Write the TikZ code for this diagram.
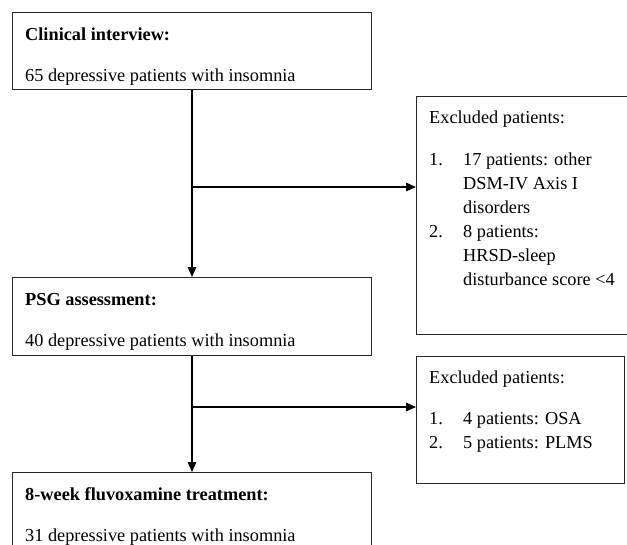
\documentclass[tikz,border=0pt]{standalone}
\usepackage{fontspec}
\setmainfont{Liberation Serif}
\usetikzlibrary{arrows.meta}
\begin{document}
\begin{tikzpicture}[x=1pt,y=-1pt,
  boxstyle/.style={draw=black!85,line width=1.3pt,rectangle,inner sep=0pt,anchor=north west},
  txt/.style={anchor=base west,inner sep=0pt,font=\fontsize{18.3}{24}\selectfont},
  btxt/.style={txt,font=\fontsize{18.3}{24}\selectfont\bfseries},
  arr/.style={draw=black,line width=1.4pt,-{Triangle[length=10pt,width=8.5pt]}},
  ln/.style={draw=black,line width=1.4pt}]
\useasboundingbox (0,0) rectangle (627,544);
\clip (0,0) rectangle (627,544);
% boxes
\node[boxstyle,minimum width=359pt,minimum height=77pt] (box1) at (12,12) {};
\node[boxstyle,minimum width=359pt,minimum height=78pt] (box2) at (12,277) {};
\node[boxstyle,minimum width=359pt,minimum height=90pt] (box3) at (12,472) {};
\node[boxstyle,minimum width=224pt,minimum height=238pt] (ex1) at (416,96) {};
\node[boxstyle,minimum width=208pt,minimum height=127pt] (ex2) at (416,356) {};
% texts
\node[btxt] (t1a) at (25,40) {Clinical interview:};
\node[txt] (t1b) at (25,81) {65 depressive patients with insomnia};
\node[btxt] (t2a) at (25,305) {PSG assessment:};
\node[txt] (t2b) at (25,346) {40 depressive patients with insomnia};
\node[btxt] (t3a) at (25,500) {8-week fluvoxamine treatment:};
\node[txt] (t3b) at (25,541) {31 depressive patients with insomnia};
\node[txt] (e1h) at (429,123) {Excluded patients:};
\node[txt] (e1n1) at (429,165) {1.};
\node[txt] (e1a) at (463,165) {17 patients: other};
\node[txt] (e1b) at (463,189) {DSM-IV Axis I};
\node[txt] (e1c) at (463,213) {disorders};
\node[txt] (e1n2) at (429,237) {2.};
\node[txt] (e1d) at (463,237) {8 patients:};
\node[txt] (e1e) at (463,261) {HRSD-sleep};
\node[txt] (e1f) at (463,285) {disturbance score <4};
\node[txt] (e2h) at (429,383) {Excluded patients:};
\node[txt] (e2n1) at (429,424) {1.};
\node[txt] (e2a) at (463,424) {4 patients: OSA};
\node[txt] (e2n2) at (429,448) {2.};
\node[txt] (e2b) at (463,448) {5 patients: PLMS};
% connectors
\coordinate (c1) at (192,187);
\coordinate (c2) at (192,407);
\draw[ln] (box1.south -| c1) -- (c1);
\draw[arr] (c1) -- (box2.north -| c1);
\draw[arr] (c1) -- (c1 -| ex1.west);
\draw[ln] (box2.south -| c2) -- (c2);
\draw[arr] (c2) -- (box3.north -| c2);
\draw[arr] (c2) -- (c2 -| ex2.west);
\end{tikzpicture}
\end{document}
